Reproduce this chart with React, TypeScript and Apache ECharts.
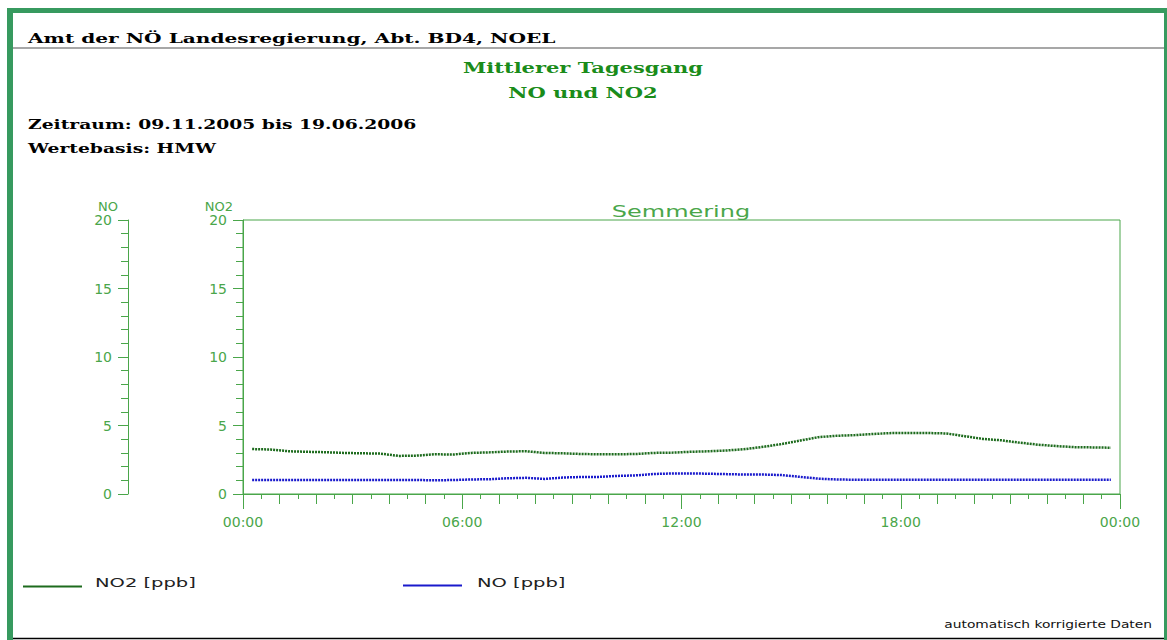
import React, { useEffect, useRef } from "react";
import * as echarts from "echarts";

// ---- data ----
const slotMinutes = [
  15, 45, 75, 105, 135, 165, 195, 225, 255, 285, 315, 345,
  375, 405, 435, 465, 495, 525, 555, 585, 615, 645, 675, 705,
  735, 765, 795, 825, 855, 885, 915, 945, 975, 1005, 1035, 1065,
  1095, 1125, 1155, 1185, 1215, 1245, 1275, 1305, 1335, 1365, 1395, 1425,
];
const no2Values = [
  3.28, 3.25, 3.12, 3.08, 3.05, 3.0, 2.97, 2.95, 2.78, 2.8, 2.9, 2.88,
  3.0, 3.04, 3.1, 3.12, 3.0, 2.97, 2.92, 2.9, 2.9, 2.92, 3.0, 3.02,
  3.08, 3.12, 3.18, 3.28, 3.45, 3.65, 3.9, 4.15, 4.25, 4.3, 4.38, 4.45,
  4.45, 4.45, 4.42, 4.22, 4.02, 3.92, 3.75, 3.6, 3.5, 3.42, 3.4, 3.38,
];
const noValues = [
  1.02, 1.02, 1.02, 1.02, 1.02, 1.02, 1.02, 1.02, 1.02, 1.02, 1.0, 1.02,
  1.06, 1.08, 1.15, 1.18, 1.1, 1.2, 1.24, 1.25, 1.32, 1.36, 1.46, 1.5,
  1.5, 1.48, 1.45, 1.42, 1.42, 1.38, 1.25, 1.12, 1.06, 1.04, 1.04, 1.04,
  1.04, 1.04, 1.04, 1.04, 1.04, 1.04, 1.04, 1.04, 1.04, 1.04, 1.04, 1.04,
];
const xTickLabels = ["00:00", "06:00", "12:00", "18:00", "00:00"];
const seriesNames = ["NO2 [ppb]", "NO [ppb]"];

const FRAME = "#379a5f";
const AXIS = "#4aa64a";
const TITLE_GREEN = "#1a8c1a";
const NO2_COLOR = "#1d6b1d";
const NO_COLOR = "#1a1acc";
const SANS = "DejaVu Sans";
const SERIF = "DejaVu Serif";

export default function App() {
  const ref = useRef<HTMLDivElement>(null);
  useEffect(() => {
    if (!ref.current) return;
    const chart = echarts.init(ref.current, undefined, { renderer: "svg" });
    const xBase = {
      type: "value",
      min: 0,
      max: 1440,
      position: "bottom",
      axisLine: { show: true, onZero: false, lineStyle: { color: AXIS, width: 1 } },
      splitLine: { show: false },
    };
    const yBase = {
      type: "value",
      min: 0,
      max: 20,
      interval: 5,
      position: "left",
      nameLocation: "end",
      nameGap: 5,
      nameTextStyle: { color: AXIS, fontFamily: SANS, fontSize: 13, align: "right", padding: [0, 10, 0, 0] },
      axisLine: { show: true, onZero: false, lineStyle: { color: AXIS, width: 1 } },
      axisTick: { show: true, length: 10, lineStyle: { color: AXIS } },
      minorTick: { show: true, splitNumber: 5, length: 7, lineStyle: { color: AXIS } },
      axisLabel: { color: AXIS, fontFamily: SANS, fontSize: 14, margin: 16 },
      splitLine: { show: false },
      minorSplitLine: { show: false },
    };
    const txt = (text: string, x: number, y: number, font: string, color: string, align: string, scaleX: number) => ({
      type: "text",
      x,
      y,
      scaleX,
      silent: true,
      style: { text, font, fill: color, textAlign: align, textVerticalAlign: "middle" },
    });
    chart.setOption({
      animation: false,
      backgroundColor: "#ffffff",
      grid: {
        left: 243,
        right: 47,
        top: 220,
        bottom: 146,
        show: true,
        borderColor: AXIS,
        borderWidth: 1,
        backgroundColor: "transparent",
      },
      xAxis: [
        {
          ...xBase,
          interval: 360,
          axisTick: { show: true, length: 15, lineStyle: { color: AXIS } },
          axisLabel: {
            color: AXIS,
            fontFamily: SANS,
            fontSize: 14,
            margin: 21,
            formatter: (v: number) => xTickLabels[Math.round(v / 360)] ?? "",
          },
        },
        {
          ...xBase,
          interval: 60,
          axisTick: { show: true, length: 10, lineStyle: { color: AXIS } },
          axisLabel: { show: false },
        },
        {
          ...xBase,
          interval: 30,
          axisTick: { show: true, length: 5, lineStyle: { color: AXIS } },
          axisLabel: { show: false },
        },
      ],
      yAxis: [
        { ...yBase, name: "NO2", offset: 0 },
        { ...yBase, name: "NO", offset: 115 },
      ],
      series: [
        {
          name: seriesNames[0],
          type: "line",
          xAxisIndex: 0,
          yAxisIndex: 0,
          showSymbol: false,
          symbol: "none",
          lineStyle: { color: NO2_COLOR, width: 2.5, type: [2, 1] },
          data: slotMinutes.map((m, i) => [m, no2Values[i]]),
        },
        {
          name: seriesNames[1],
          type: "line",
          xAxisIndex: 0,
          yAxisIndex: 1,
          showSymbol: false,
          symbol: "none",
          lineStyle: { color: NO_COLOR, width: 2.5, type: [2, 1] },
          data: slotMinutes.map((m, i) => [m, noValues[i]]),
        },
      ],
      graphic: [
        { type: "rect", silent: true, shape: { x: 7, y: 8, width: 1160, height: 5 }, style: { fill: FRAME } },
        { type: "rect", silent: true, shape: { x: 7, y: 8, width: 6, height: 632 }, style: { fill: FRAME } },
        { type: "rect", silent: true, shape: { x: 1164, y: 8, width: 3, height: 632 }, style: { fill: FRAME } },
        { type: "line", silent: true, shape: { x1: 13, y1: 48, x2: 1164, y2: 48 }, style: { stroke: "#8a8a8a", lineWidth: 1.5 } },
        { type: "line", silent: true, shape: { x1: 13, y1: 638.5, x2: 1164, y2: 638.5 }, style: { stroke: "#000000", lineWidth: 1.5 } },
        txt("Amt der NÖ Landesregierung, Abt. BD4, NOEL", 28, 38, `bold 13px "${SERIF}"`, "#000000", "left", 1.55),
        txt("Mittlerer Tagesgang", 583, 68, `bold 14px "${SERIF}"`, TITLE_GREEN, "center", 1.5),
        txt("NO und NO2", 583, 93, `bold 14px "${SERIF}"`, TITLE_GREEN, "center", 1.5),
        txt("Zeitraum: 09.11.2005 bis 19.06.2006", 28, 125, `bold 13px "${SERIF}"`, "#000000", "left", 1.44),
        txt("Wertebasis: HMW", 28, 149, `bold 13px "${SERIF}"`, "#000000", "left", 1.44),
        txt("Semmering", 681, 212, `16px "${SANS}"`, AXIS, "center", 1.5),
        { type: "line", silent: true, shape: { x1: 23, y1: 586.5, x2: 82, y2: 586.5 }, style: { stroke: NO2_COLOR, lineWidth: 2 } },
        txt(seriesNames[0], 95, 583, `13px "${SANS}"`, "#222222", "left", 1.5),
        { type: "line", silent: true, shape: { x1: 403, y1: 585.5, x2: 462, y2: 585.5 }, style: { stroke: NO_COLOR, lineWidth: 2 } },
        txt(seriesNames[1], 477, 583, `13px "${SANS}"`, "#222222", "left", 1.5),
        txt("automatisch korrigierte Daten", 1152, 625, `10px "${SANS}"`, "#111111", "right", 1.38),
      ],
    });
    return () => chart.dispose();
  }, []);
  return (
    <div
      ref={ref}
      style={{ position: "absolute", left: 0, top: 0, width: 1167, height: 640, background: "#ffffff" }}
    />
  );
}
